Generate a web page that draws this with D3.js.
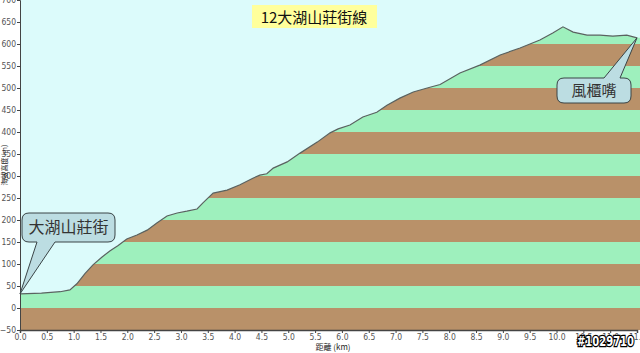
<!DOCTYPE html>
<html>
<head>
<meta charset="utf-8">
<script src="https://cdn.jsdelivr.net/npm/d3@7"></script>
<style>
  body { margin: 0; background: #fff; }
  svg { display: block; }
</style>
</head>
<body>
<div id="chart"></div>
<script>
// route profile
var distKm = [0.00, 0.40, 0.75, 0.93, 1.06, 1.21, 1.36, 1.53, 1.68, 1.83, 1.99, 2.18, 2.37, 2.55, 2.74, 2.93,
              3.11, 3.30, 3.41, 3.60, 3.86, 4.10, 4.34, 4.47, 4.60, 4.72, 4.98, 5.22, 5.54, 5.78, 5.93, 6.15,
              6.39, 6.65, 6.84, 7.08, 7.33, 7.59, 7.83, 8.20, 8.57, 8.95, 9.32, 9.69, 9.93, 10.12, 10.31,
              10.57, 10.81, 11.05, 11.31, 11.50];
var elevM = [32, 34, 37, 41, 55, 78, 98, 116, 130, 142, 157, 166, 177, 193, 209, 216,
             220, 225, 239, 261, 268, 280, 295, 302, 305, 318, 332, 352, 377, 398, 407, 416,
             434, 445, 461, 477, 491, 500, 508, 534, 552, 575, 591, 609, 625, 639, 627,
             620, 620, 618, 620, 614];
var xTicks = d3.range(0, 11.51, 0.5);
var yTicks = d3.range(-50, 701, 50);
var title = "12大湖山莊街線";
var startName = "大湖山莊街", endName = "風櫃嘴";
var xTitle = "距離  (km)", yTitle = "海拔高度 (m)";

var W = 640, H = 353;
var padL = 20, padR = 637, padT = 0, padB = 330;

var svg = d3.select("#chart").append("svg")
    .attr("width", W).attr("height", H);

var x = d3.scaleLinear().domain([0, 11.5]).range([padL, padR]);
var y = d3.scaleLinear().domain([-50, 700]).range([padB, padT]);

var pts = distKm.map(function(d, i) { return [d, elevM[i]]; });

// plot background
svg.append("rect")
    .attr("x", padL).attr("y", padT)
    .attr("width", W - padL).attr("height", padB - padT)
    .attr("fill", "#dcfbfb");

var area = d3.area()
    .x(function(d) { return x(d[0]); })
    .y0(y(-50))
    .y1(function(d) { return y(d[1]); });

svg.append("clipPath").attr("id", "ground")
    .append("path").attr("d", area(pts.concat([[12, elevM[elevM.length - 1]]])));

// striped bands under the profile
var bands = d3.range(-50, 700, 50);
svg.append("g").attr("clip-path", "url(#ground)")
    .selectAll("rect").data(bands).enter().append("rect")
    .attr("x", padL).attr("width", W - padL)
    .attr("y", function(d) { return y(d + 50); })
    .attr("height", function(d) { return y(d) - y(d + 50); })
    .attr("fill", function(d) { return Math.round(d / 50) % 2 === 0 ? "#9ef0bd" : "#b99169"; });

svg.append("path")
    .attr("d", d3.line().x(function(d) { return x(d[0]); }).y(function(d) { return y(d[1]); })(pts))
    .attr("fill", "none").attr("stroke", "#5a6260").attr("stroke-width", 1.2);

// axes
var xAxis = svg.append("g").attr("transform", "translate(0," + padB + ")")
    .call(d3.axisBottom(x).tickValues(xTicks).tickFormat(d3.format(".1f")).tickSize(3).tickPadding(1));
var yAxis = svg.append("g").attr("transform", "translate(" + padL + ",0)")
    .call(d3.axisLeft(y).tickValues(yTicks).tickSize(3).tickPadding(1));

[xAxis, yAxis].forEach(function(a) {
    a.select(".domain").attr("stroke", "#444");
    a.selectAll(".tick line").attr("stroke", "#444");
    a.selectAll("text").attr("fill", "#555")
        .style("font-family", "'DejaVu Sans Condensed', 'Liberation Sans', sans-serif")
        .style("font-size", "8.5px");
});
xAxis.select(".domain").attr("stroke-width", 1.5);

svg.append("text")
    .attr("x", 333).attr("y", 350)
    .attr("text-anchor", "middle")
    .style("font-family", "'Noto Sans CJK TC', sans-serif").style("font-size", "8px")
    .attr("fill", "#222")
    .text(xTitle);

svg.append("text")
    .attr("transform", "translate(7,165) rotate(-90)")
    .attr("text-anchor", "middle")
    .style("font-family", "'Noto Sans CJK TC', sans-serif").style("font-size", "7px")
    .attr("fill", "#222")
    .text(yTitle);

// title
svg.append("rect")
    .attr("x", 252).attr("y", 5).attr("width", 125).attr("height", 23)
    .attr("fill", "#ffff9c");
svg.append("text")
    .attr("x", 314).attr("y", 23)
    .attr("text-anchor", "middle")
    .style("font-family", "'Noto Sans CJK TC', sans-serif").style("font-size", "15px")
    .attr("fill", "#111")
    .text(title);

// callout: rounded box with a wedge pointing at a spot on the profile
function callout(bx, by, bw, bh, side, p0, p1, tip, label, fs) {
    var r = 7, p = d3.path();
    p.moveTo(bx + r, by);
    if (side === "top") { p.lineTo(p0, by); p.lineTo(tip[0], tip[1]); p.lineTo(p1, by); }
    p.lineTo(bx + bw - r, by);
    p.quadraticCurveTo(bx + bw, by, bx + bw, by + r);
    p.lineTo(bx + bw, by + bh - r);
    p.quadraticCurveTo(bx + bw, by + bh, bx + bw - r, by + bh);
    if (side === "bottom") { p.lineTo(p1, by + bh); p.lineTo(tip[0], tip[1]); p.lineTo(p0, by + bh); }
    p.lineTo(bx + r, by + bh);
    p.quadraticCurveTo(bx, by + bh, bx, by + bh - r);
    p.lineTo(bx, by + r);
    p.quadraticCurveTo(bx, by, bx + r, by);
    p.closePath();
    svg.append("path").attr("d", p.toString())
        .attr("fill", "#bcdde2").attr("stroke", "#3a4446").attr("stroke-width", 1);
    svg.append("text")
        .attr("x", bx + bw / 2).attr("y", by + bh / 2 + fs * 0.36)
        .attr("text-anchor", "middle")
        .style("font-family", "'Noto Sans CJK TC', sans-serif").style("font-size", fs + "px")
        .attr("fill", "#333")
        .text(label);
}

callout(22, 213, 93, 29, "bottom", 37, 55,
        [x(distKm[0]), y(elevM[0])], startName, 16);
callout(557, 78, 74, 25, "top", 604, 620,
        [x(distKm[distKm.length - 1]), y(elevM[elevM.length - 1])], endName, 15);

// watermark
svg.append("text")
    .attr("x", 577).attr("y", 346)
    .attr("textLength", 57).attr("lengthAdjust", "spacingAndGlyphs")
    .style("font-family", "'DejaVu Sans Condensed', sans-serif").style("font-size", "14px")
    .style("font-weight", "bold")
    .attr("fill", "#fff").attr("stroke", "#000").attr("stroke-width", 2.5)
    .attr("paint-order", "stroke")
    .text("#1029710");
</script>
</body>
</html>
